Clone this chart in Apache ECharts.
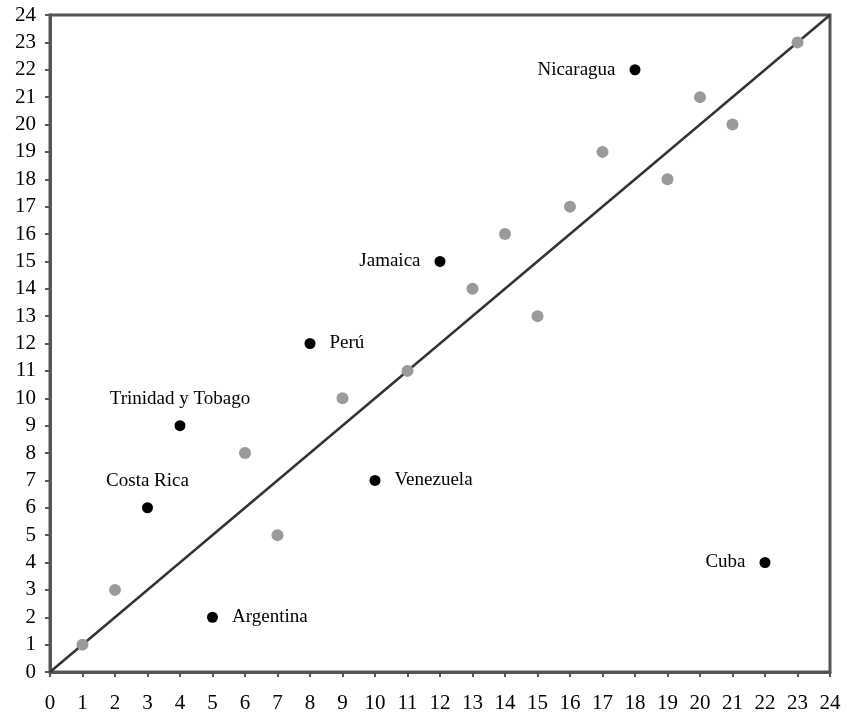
<!DOCTYPE html>
<html><head><meta charset="utf-8">
<script src="https://cdn.jsdelivr.net/npm/echarts@6/dist/echarts.min.js"></script>
<style>html,body{margin:0;padding:0;background:#fff}#c{width:847px;height:721px}</style>
</head><body><div id="c"></div>
<script>
const labeledNames = ["Nicaragua","Jamaica","Perú","Trinidad y Tobago","Costa Rica","Venezuela","Argentina","Cuba"];
const labeledX = [18,12,8,4,3,10,5,22];
const labeledY = [22,15,12,9,6,7,2,4];
const labelPos = ["left","left","right","top","top","right","right","left"];
const grayX = [1,2,6,7,9,11,13,14,15,16,17,19,20,21,23];
const grayY = [1,3,8,5,10,11,14,16,13,17,19,18,21,20,23];
const diagX = [0,24];
const diagY = [0,24];
const axisMin = 0, axisMax = 24, axisStep = 1;

const chart = echarts.init(document.getElementById('c'));
const axisCol = '#555';
const font = '"Liberation Serif", "DejaVu Serif", serif';
function axis(isX){
  return {
    type:'value', min:axisMin, max:axisMax, interval:axisStep,
    axisLine:{show:true, onZero:false, lineStyle:{color:axisCol,width:3}},
    axisTick:{show:true, inside:false, length:5, lineStyle:{color:axisCol,width:2}},
    splitLine:{show:false},
    axisLabel:{color:'#000', fontFamily:font, fontSize:21, margin: isX?21:14}
  };
}
chart.setOption({
  animation:false,
  backgroundColor:'#fff',
  grid:{left:50,right:17,top:15,bottom:49,show:true,borderColor:axisCol,borderWidth:3},
  xAxis: axis(true),
  yAxis: axis(false),
  series:[
    {type:'line', data:diagX.map((x,i)=>[x,diagY[i]]), symbol:'none',
     lineStyle:{color:'#333',width:2.5}, z:1},
    {type:'scatter', data:grayX.map((x,i)=>[x,grayY[i]]), symbolSize:12,
     itemStyle:{color:'#9a9a9a',opacity:1}, z:2},
    {type:'scatter', data:labeledX.map((x,i)=>({value:[x,labeledY[i]], name:labeledNames[i],
       label:{show:true, position:labelPos[i], formatter:labeledNames[i],
         distance: labelPos[i]==='top'?12:14}})),
     symbolSize:11, itemStyle:{color:'#000',opacity:1},
     label:{color:'#000', fontFamily:font, fontSize:19}, z:3}
  ]
});
</script></body></html>
